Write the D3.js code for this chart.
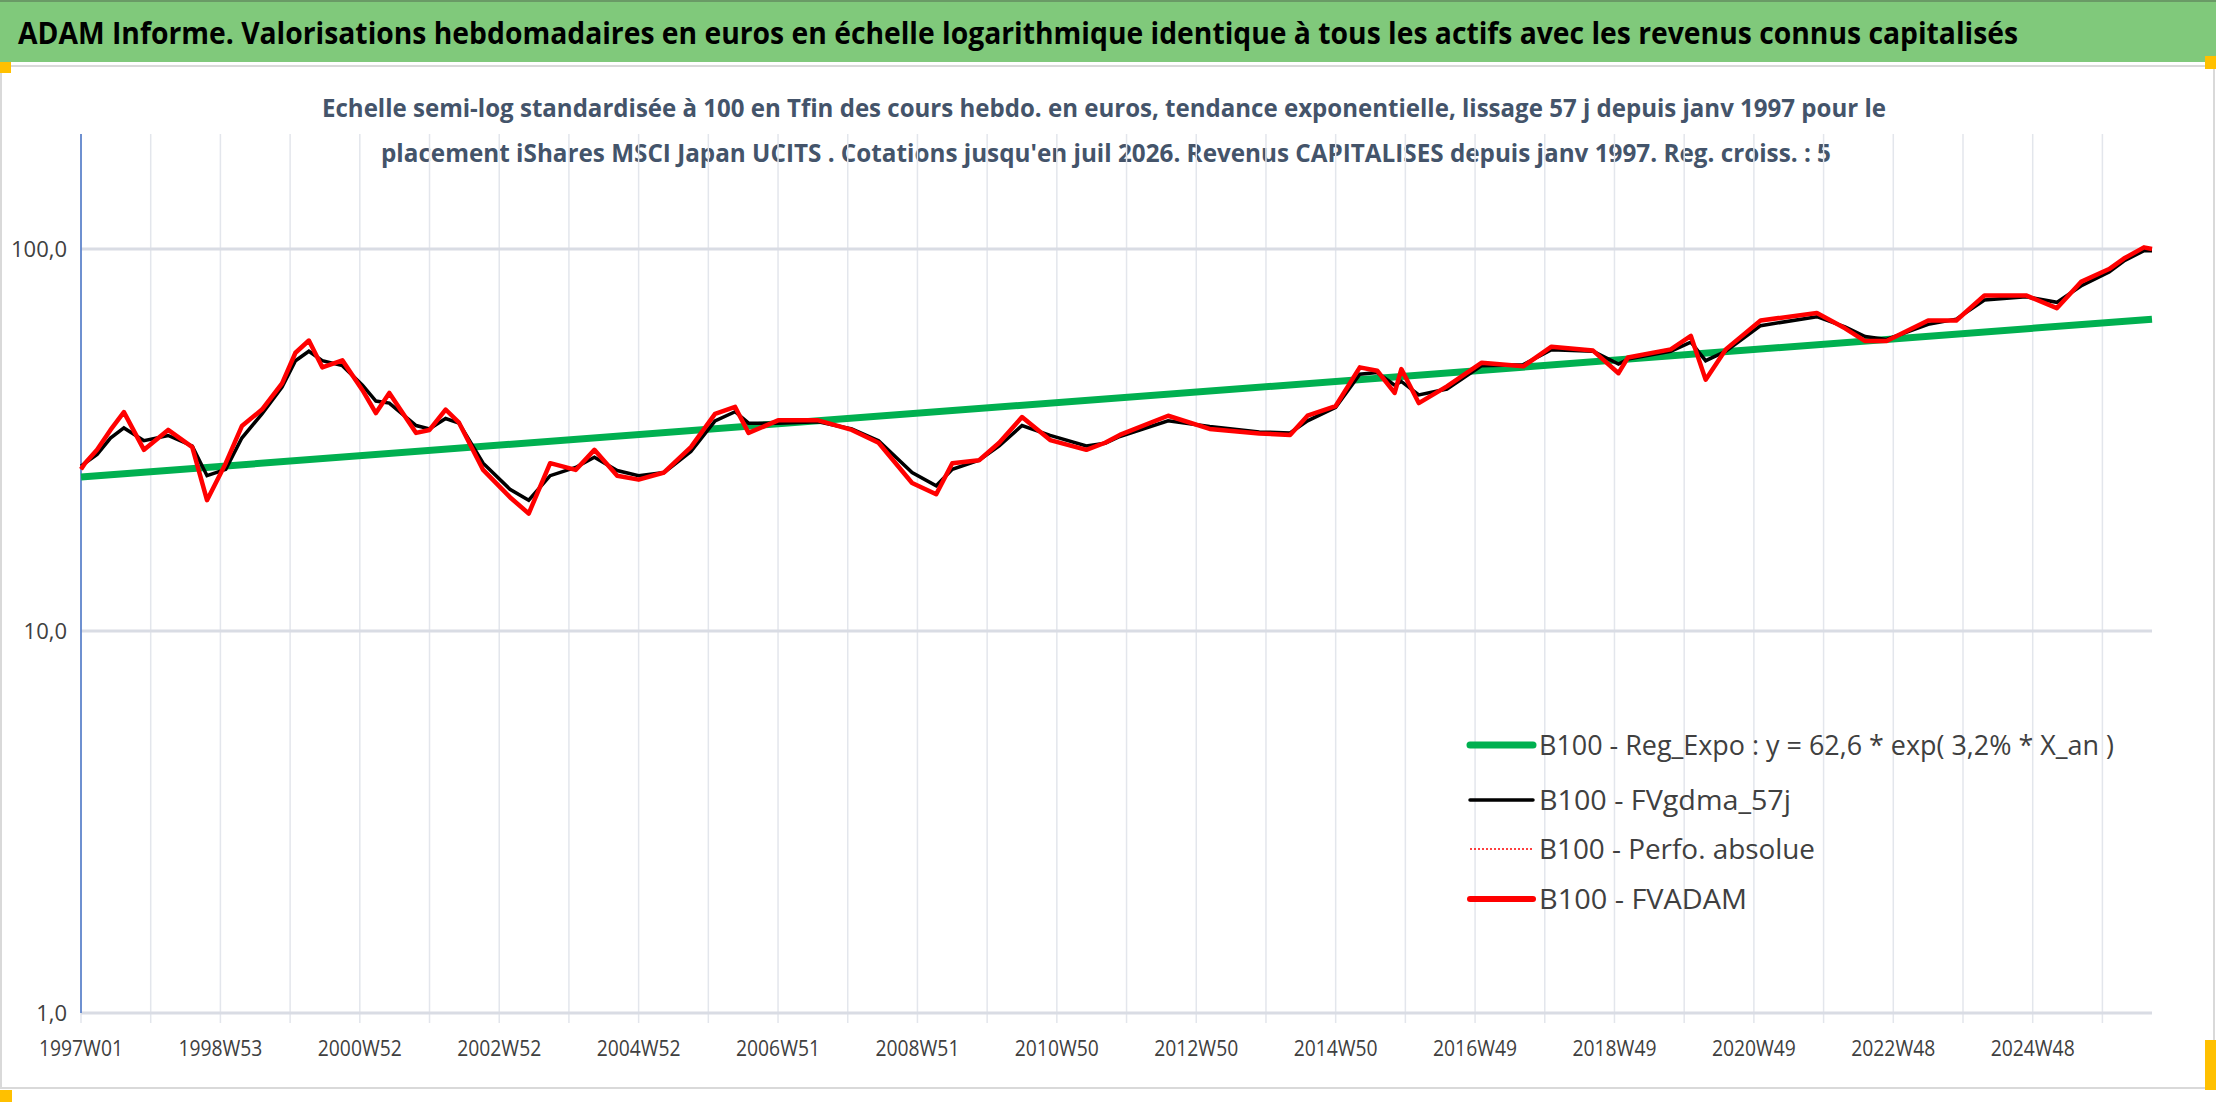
<!DOCTYPE html>
<html>
<head>
<meta charset="utf-8">
<script src="https://cdn.jsdelivr.net/npm/d3@7"></script>
<style>
  body { margin: 0; background: #fff; }
  svg { display: block; }
  text { font-family: "Liberation Sans Narrow", "Open Sans", sans-serif; }
</style>
</head>
<body>
<div id="chart"></div>
<script>
// weeks since 1997W01
var weeks  = [0,3,12,22,32,47,65,83,94,108,120,135,150,160,170,180,195,210,220,230,250,260,272,282,300,320,334,350,369,383,400,416,435,455,473,488,498,520,550,575,595,620,638,650,670,685,702,723,750,764,775,811,842,879,902,915,936,954,967,980,985,998,1019,1045,1076,1097,1128,1147,1154,1186,1201,1212,1227,1253,1295,1316,1331,1347,1378,1399,1420,1451,1474,1492,1513,1524,1539,1545];
var fvadam = [26.5,27.5,29.8,33.6,37.4,29.8,33.6,30.3,22.0,27.5,34.4,38.0,44.5,53.5,57.6,49.0,51.1,42.7,37.2,42.0,33.0,33.6,38.0,35.1,26.4,22.4,20.3,27.5,26.4,29.8,25.5,24.9,26.0,30.3,37.0,38.6,33.0,35.6,35.6,33.6,31.1,24.4,22.8,27.5,28.0,31.1,36.3,31.6,29.8,31.1,32.6,36.6,33.8,32.9,32.6,36.6,38.8,49.0,48.0,42.0,48.5,39.5,43.7,50.4,49.3,55.5,54.2,47.3,52.0,54.6,59.2,45.5,54.6,65.0,68.0,62.0,57.4,57.4,65.0,65.0,75.6,75.6,70.0,82.0,88.6,94.4,101.0,100.0];
var fvgdma = [27.0,27.5,29.0,32.0,34.0,31.5,32.5,30.5,25.5,26.5,32.0,37.0,43.5,51.0,54.0,51.0,49.5,44.0,40.0,39.5,34.5,33.8,36.0,35.0,27.5,23.5,22.0,25.5,26.8,28.5,26.3,25.5,26.0,29.5,35.5,37.5,35.0,35.0,35.3,33.8,31.5,26.0,24.0,26.5,28.0,30.5,34.5,32.5,30.5,31.0,32.3,35.5,34.3,33.2,33.0,35.5,38.5,47.0,47.5,44.0,45.0,41.5,43.0,49.5,49.8,54.5,54.0,50.0,51.5,54.0,57.0,51.0,54.0,63.0,66.5,62.5,59.0,58.0,63.5,65.5,73.5,75.0,72.5,80.0,87.0,93.0,99.0,99.0];
var trendWeeks  = [0, 1545];
var trendValues = [25.3, 65.5];
var tickWeeks   = [0,104,208,312,416,520,624,728,832,936,1040,1144,1248,1352,1456];
var tickLabels  = ["1997W01","1998W53","2000W52","2002W52","2004W52","2006W51","2008W51","2010W50","2012W50","2014W50","2016W49","2018W49","2020W49","2022W48","2024W48"];
var yTicks      = [1, 10, 100];
var legendNames = ["B100 - Reg_Expo : y = 62,6 * exp( 3,2% *  X_an )","B100 - FVgdma_57j","B100 - Perfo. absolue","B100 - FVADAM"];

var W = 2216, H = 1102;
var pLeft = 81, pRight = 2152, pTop = 134, pBottom = 1013;

var svg = d3.select("#chart").append("svg").attr("width", W).attr("height", H);

// header
svg.append("rect").attr("x",0).attr("y",0).attr("width",W).attr("height",62).attr("fill","#80c97b");
svg.append("rect").attr("x",0).attr("y",0).attr("width",W).attr("height",2).attr("fill","#6a9a66");
svg.append("text").attr("x",18).attr("y",44).attr("font-size",31).attr("font-weight","bold").attr("fill","#000")
  .attr("textLength",2000).attr("lengthAdjust","spacingAndGlyphs")
  .text("ADAM Informe. Valorisations hebdomadaires en euros en échelle logarithmique identique à tous les actifs avec les revenus connus capitalisés");

// chart frame
svg.append("rect").attr("x",1).attr("y",66).attr("width",W-3).attr("height",1022).attr("fill","none").attr("stroke","#d9d9d9").attr("stroke-width",2);
[[0,62,11,11],[W-11,56,11,13],[W-11,1040,11,50],[0,1090,12,12]].forEach(function(r){
  svg.append("rect").attr("x",r[0]).attr("y",r[1]).attr("width",r[2]).attr("height",r[3]).attr("fill","#ffc000");
});

// subtitles
svg.append("text").attr("x",1104).attr("y",117).attr("text-anchor","middle").attr("font-size",25).attr("font-weight","bold").attr("fill","#44546a")
  .attr("textLength",1564).attr("lengthAdjust","spacingAndGlyphs")
  .text("Echelle semi-log standardisée à 100 en Tfin des cours hebdo. en euros, tendance exponentielle, lissage 57 j depuis janv 1997 pour le");
svg.append("text").attr("x",1106).attr("y",162).attr("text-anchor","middle").attr("font-size",25).attr("font-weight","bold").attr("fill","#44546a")
  .attr("textLength",1450).attr("lengthAdjust","spacingAndGlyphs")
  .text("placement iShares MSCI Japan UCITS . Cotations jusqu'en juil 2026. Revenus CAPITALISES depuis janv 1997. Reg. croiss. : 5");

var x = d3.scaleLinear().domain([0, 1545]).range([pLeft, pRight]);
var y = d3.scaleLog().domain([1, 200]).range([pBottom, pTop]);

// vertical grid every 52 weeks
var vgrid = d3.range(0, 1545, 52);
svg.append("g").selectAll("line").data(vgrid).enter().append("line")
  .attr("x1", function(d){ return x(d); }).attr("x2", function(d){ return x(d); })
  .attr("y1", pTop).attr("y2", pBottom + 10)
  .attr("stroke", "#e3e6ec").attr("stroke-width", 1.5);

// horizontal grid
svg.append("g").selectAll("line").data(yTicks).enter().append("line")
  .attr("x1", pLeft).attr("x2", pRight)
  .attr("y1", function(d){ return y(d); }).attr("y2", function(d){ return y(d); })
  .attr("stroke", "#d9dce4").attr("stroke-width", 3);

// y axis labels
svg.append("g").selectAll("text").data(yTicks).enter().append("text")
  .attr("x", 67).attr("y", function(d){ return y(d) + 8; })
  .attr("text-anchor","end").attr("font-size",22).attr("fill","#404040")
  .text(function(d){ return d3.format(".1f")(d).replace(".", ","); });

// x labels
svg.append("g").selectAll("text").data(tickWeeks).enter().append("text")
  .attr("x", function(d){ return x(d); }).attr("y", 1056)
  .attr("text-anchor","middle").attr("font-size",22).attr("fill","#404040")
  .attr("textLength",84).attr("lengthAdjust","spacingAndGlyphs")
  .text(function(d, i){ return tickLabels[i]; });

// left axis line
svg.append("line").attr("x1",pLeft).attr("x2",pLeft).attr("y1",pTop).attr("y2",pBottom).attr("stroke","#4472c4").attr("stroke-width",1.5);

var line = d3.line().x(function(d){ return x(d[0]); }).y(function(d){ return y(d[1]); });

svg.append("path").datum(d3.zip(trendWeeks, trendValues))
  .attr("d", line).attr("fill","none").attr("stroke","#00b050").attr("stroke-width",7);
svg.append("path").datum(d3.zip(weeks, fvgdma))
  .attr("d", line).attr("fill","none").attr("stroke","#000").attr("stroke-width",3.5);
svg.append("path").datum(d3.zip(weeks, fvadam))
  .attr("d", line).attr("fill","none").attr("stroke","#ff0000").attr("stroke-width",1.5).attr("stroke-dasharray","2,2");
svg.append("path").datum(d3.zip(weeks, fvadam))
  .attr("d", line).attr("fill","none").attr("stroke","#ff0000").attr("stroke-width",4.5).attr("stroke-linejoin","round");

// legend
var legY = [745, 800, 849, 899];
var legW = [575, 252, 276, 208];
var legStyle = [
  {c:"#00b050", w:7, dash:null},
  {c:"#000000", w:3.5, dash:null},
  {c:"#ff0000", w:1.5, dash:"2,2"},
  {c:"#ff0000", w:6, dash:null}
];
var leg = svg.append("g").selectAll("g").data(legendNames).enter().append("g");
leg.append("line").attr("x1",1470).attr("x2",1533)
  .attr("y1", function(d,i){ return legY[i]; }).attr("y2", function(d,i){ return legY[i]; })
  .attr("stroke", function(d,i){ return legStyle[i].c; })
  .attr("stroke-width", function(d,i){ return legStyle[i].w; })
  .attr("stroke-linecap", function(d,i){ return legStyle[i].dash ? "butt" : "round"; })
  .attr("stroke-dasharray", function(d,i){ return legStyle[i].dash; });
leg.append("text").attr("x",1539).attr("y", function(d,i){ return legY[i] + 10; })
  .attr("font-size",28).attr("fill","#404040")
  .attr("textLength", function(d,i){ return legW[i]; }).attr("lengthAdjust","spacingAndGlyphs")
  .text(function(d){ return d; });
</script>
</body>
</html>
